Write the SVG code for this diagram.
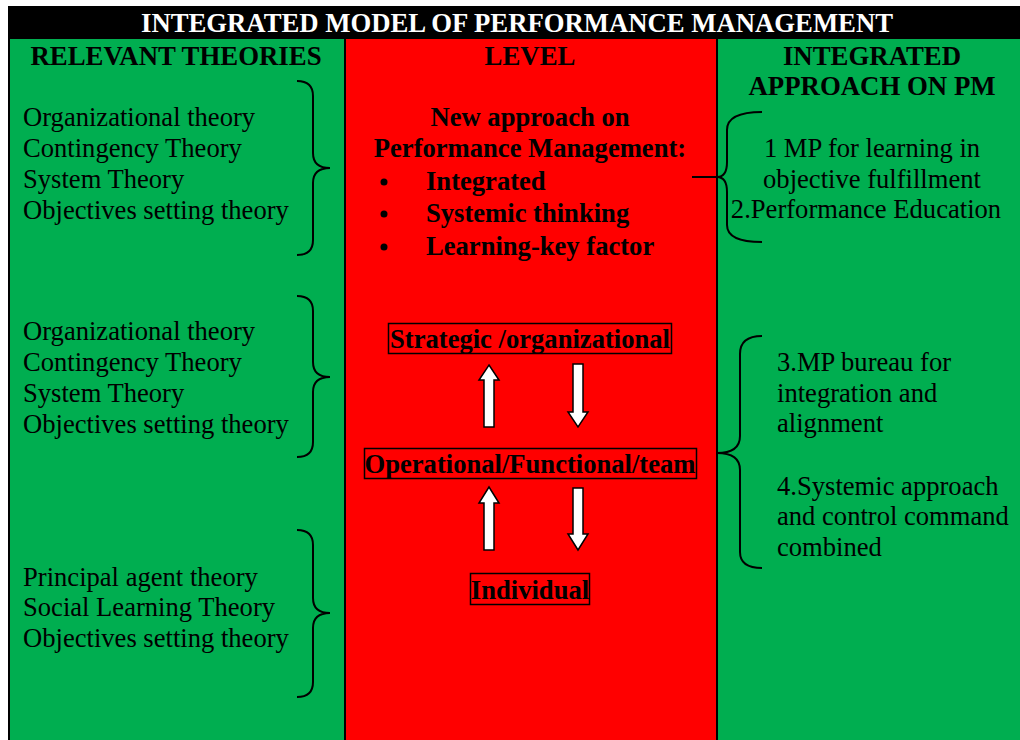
<svg xmlns="http://www.w3.org/2000/svg" width="1020" height="740" viewBox="0 0 1020 740">
<style>
text{font-family:"Liberation Serif","Times New Roman",serif;fill:#000}
.hd{font-weight:bold;font-size:26.8px}
.r{font-size:26.6px}
.b{font-weight:bold;font-size:26.6px}
.brace{fill:none;stroke:#000;stroke-width:2}
.box{fill:none;stroke:#000;stroke-width:1.5}
.arr{fill:#fff;stroke:#000;stroke-width:1.5}
</style>
<rect x="0" y="0" width="1020" height="740" fill="#fff"/>
<g id="columns">
<rect x="8" y="39" width="337" height="701" fill="#00AE50"/>
<rect x="345" y="39" width="372" height="701" fill="#FF0000"/>
<rect x="717" y="39" width="303" height="701" fill="#00AE50"/>
<line x1="9" y1="39" x2="9" y2="740" stroke="#000" stroke-width="2"/>
<line x1="345" y1="39" x2="345" y2="740" stroke="#000" stroke-width="2"/>
<line x1="717" y1="39" x2="717" y2="740" stroke="#000" stroke-width="2"/>
</g>
<g id="title">
<rect x="8" y="6" width="1012" height="33" fill="#000"/>
<text x="517" y="32" text-anchor="middle" class="hd" style="fill:#fff" textLength="752" lengthAdjust="spacingAndGlyphs">INTEGRATED MODEL OF PERFORMANCE MANAGEMENT</text>
</g>
<g id="col-headers">
<text x="176" y="65" text-anchor="middle" class="hd">RELEVANT THEORIES</text>
<text x="530" y="65" text-anchor="middle" class="hd">LEVEL</text>
<text x="872" y="65" text-anchor="middle" class="hd">INTEGRATED</text>
<text x="872" y="95" text-anchor="middle" class="hd">APPROACH ON PM</text>
</g>
<g id="theories-1">
<text x="23" y="126" class="r">Organizational theory</text>
<text x="23" y="157" class="r">Contingency Theory</text>
<text x="23" y="188" class="r">System Theory</text>
<text x="23" y="219" class="r">Objectives setting theory</text>
</g>
<g id="theories-2">
<text x="23" y="340" class="r">Organizational theory</text>
<text x="23" y="371" class="r">Contingency Theory</text>
<text x="23" y="402" class="r">System Theory</text>
<text x="23" y="433" class="r">Objectives setting theory</text>
</g>
<g id="theories-3">
<text x="23" y="586" class="r">Principal agent theory</text>
<text x="23" y="616" class="r">Social Learning Theory</text>
<text x="23" y="647" class="r">Objectives setting theory</text>
</g>
<g id="new-approach">
<text x="530" y="126" text-anchor="middle" class="b">New approach on</text>
<text x="530" y="157" text-anchor="middle" class="b">Performance Management:</text>
<circle cx="384" cy="182" r="3.5" fill="#000"/>
<circle cx="384" cy="214" r="3.5" fill="#000"/>
<circle cx="384" cy="247" r="3.5" fill="#000"/>
<text x="426" y="190" class="b">Integrated</text>
<text x="426" y="222" class="b">Systemic thinking</text>
<text x="426" y="255" class="b">Learning-key factor</text>
</g>
<g id="strategic">
<rect x="388.5" y="323.5" width="283" height="30" class="box"/>
<text x="530" y="348" text-anchor="middle" class="b">Strategic /organizational</text>
</g>
<g id="operational">
<rect x="364.5" y="448.5" width="332" height="30" class="box"/>
<text x="530" y="473" text-anchor="middle" class="b">Operational/Functional/team</text>
</g>
<g id="individual">
<rect x="470.5" y="573.5" width="119" height="31" class="box"/>
<text x="530" y="599" text-anchor="middle" class="b">Individual</text>
</g>
<g id="approach-1">
<text x="872" y="157" text-anchor="middle" class="r">1 MP for learning in</text>
<text x="872" y="188" text-anchor="middle" class="r">objective fulfillment</text>
<text x="866" y="218" text-anchor="middle" class="r">2.Performance Education</text>
</g>
<g id="approach-2">
<text x="777" y="371" class="r">3.MP bureau for</text>
<text x="777" y="402" class="r">integration and</text>
<text x="777" y="432" class="r">alignment</text>
<text x="777" y="495" class="r">4.Systemic approach</text>
<text x="777" y="525" class="r">and control command</text>
<text x="777" y="556" class="r">combined</text>
</g>
<g id="connectors">
<path class="brace" d="M297 81 Q313 81 313 96 L313 153 Q313 168 330 168 Q313 168 313 183 L313 240 Q313 255 297 255"/>
<path class="brace" d="M297 296 Q313 296 313 311 L313 362 Q313 377 330 377 Q313 377 313 392 L313 442 Q313 457 297 457"/>
<path class="brace" d="M297 530 Q313 530 313 545 L313 598 Q313 613 330 613 Q313 613 313 628 L313 682 Q313 697 297 697"/>
<path class="brace" d="M762 112 Q727 112 727 130 L727 162 Q727 177 717 177 L692 177 L717 177 Q727 177 727 192 L727 225 Q727 242 762 242"/>
<path class="brace" d="M762 336 Q740 336 740 354 L740 436 Q740 453 717 453 Q740 453 740 470 L740 552 Q740 568 762 568"/>
<path class="arr" d="M489 365 L499 380 L494 380 L494 427 L484 427 L484 380 L479 380 Z"/>
<path class="arr" d="M573 364 L583 364 L583 412 L588 412 L578 427 L568 412 L573 412 Z"/>
<path class="arr" d="M489 487 L499 503 L494 503 L494 550 L484 550 L484 503 L479 503 Z"/>
<path class="arr" d="M573 488 L583 488 L583 534 L588 534 L578 550 L568 534 L573 534 Z"/>
</g>
</svg>
